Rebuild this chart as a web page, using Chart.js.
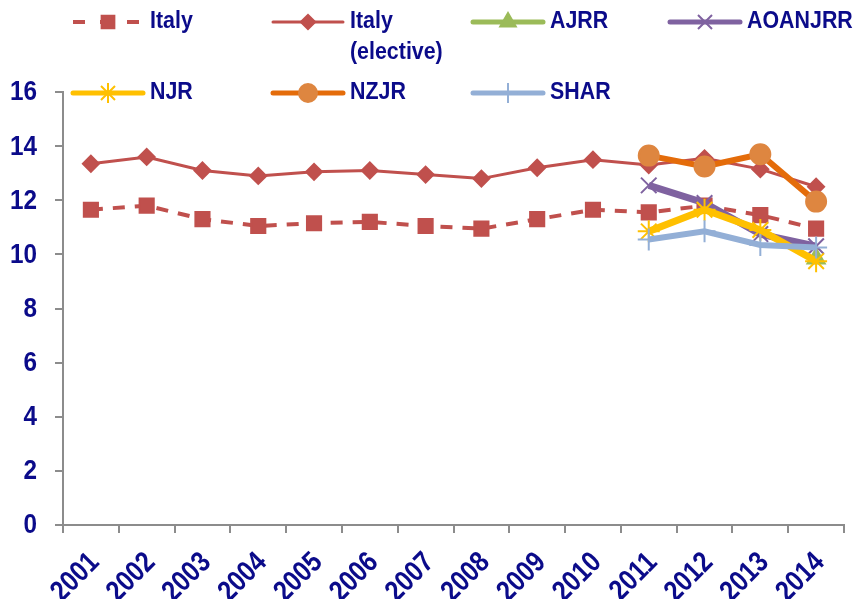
<!DOCTYPE html>
<html>
<head>
<meta charset="utf-8">
<script src="https://cdn.jsdelivr.net/npm/chart.js@4.4.1/dist/chart.umd.min.js"></script>
<style>
  html, body { margin: 0; padding: 0; background: #fff; }
  #wrap { width: 857px; height: 599px; position: relative; }
</style>
</head>
<body>
<div id="wrap"><canvas id="chart" width="857" height="599"></canvas></div>
<script>
const years = ["2001", "2002", "2003", "2004", "2005", "2006", "2007", "2008", "2009", "2010", "2011", "2012", "2013", "2014"];
const italy = [11.65, 11.8, 11.3, 11.05, 11.15, 11.2, 11.05, 10.95, 11.3, 11.65, 11.55, 11.8, 11.45, 10.95];
const italyElective = [13.35, 13.6, 13.1, 12.9, 13.05, 13.1, 12.95, 12.8, 13.2, 13.5, 13.3, 13.55, 13.15, 12.5];
const ajrr = [null, null, null, null, null, null, null, null, null, null, null, null, null, 9.85];
const aoanjrr = [null, null, null, null, null, null, null, null, null, null, 12.55, 11.9, 10.75, 10.3];
const njr = [null, null, null, null, null, null, null, null, null, null, 10.85, 11.65, 10.9, 9.75];
const nzjr = [null, null, null, null, null, null, null, null, null, null, 13.65, 13.25, 13.7, 11.95];
const shar = [null, null, null, null, null, null, null, null, null, null, 10.55, 10.85, 10.35, 10.25];
const yTicks = [0, 2, 4, 6, 8, 10, 12, 14, 16];

const NAVY = "#0b0b8a";
const FONT = "'Liberation Sans', Arial, sans-serif";
const AXIS = "#8c8c8c";

const series = [
  { label: "Italy", data: italy, color: "#C0504D", width: 4, dash: [12, 10], point: "rect", radius: 10, fill: "#C0504D" },
  { label: "Italy (elective)", data: italyElective, color: "#C0504D", width: 3, dash: [], point: "rectRot", radius: 8, fill: "#C0504D" },
  { label: "AJRR", data: ajrr, color: "#9BBB59", width: 6, dash: [], point: "triangle", radius: 10, fill: "#9BBB59" },
  { label: "AOANJRR", data: aoanjrr, color: "#7F62A0", width: 7, dash: [], point: "crossRot", radius: 11, fill: "#7F62A0" },
  { label: "NJR", data: njr, color: "#FFC000", width: 7, dash: [], point: "star", radius: 11, fill: "#FFC000" },
  { label: "NZJR", data: nzjr, color: "#E46C0A", width: 6, dash: [], point: "circle", radius: 10, fill: "#DE8640" },
  { label: "SHAR", data: shar, color: "#93AFD6", width: 6, dash: [], point: "cross", radius: 11, fill: "#93AFD6" },
];

// legend slots: [lineStartX, centerY, labelLines]
const legendSlots = [
  [73, 22, ["Italy"]],
  [273, 22, ["Italy", "(elective)"]],
  [473, 22, ["AJRR"]],
  [670, 22, ["AOANJRR"]],
  [73, 93, ["NJR"]],
  [273, 93, ["NZJR"]],
  [473, 93, ["SHAR"]],
];

// narrow bold text, like the original Arial Narrow look
function narrowText(ctx, text, x, y, size, squeeze, align, rot) {
  ctx.save();
  ctx.translate(x, y);
  if (rot) ctx.rotate(rot);
  ctx.scale(squeeze, 1);
  ctx.font = "bold " + size + "px " + FONT;
  ctx.fillStyle = NAVY;
  ctx.textAlign = align;
  ctx.textBaseline = "middle";
  ctx.fillText(text, 0, 0);
  ctx.restore();
}

const labelPlugin = {
  id: "axisLabels",
  afterDraw(chart) {
    const ctx = chart.ctx;
    const xs = chart.scales.x, ys = chart.scales.y;
    ys.ticks.forEach(t => narrowText(ctx, String(t.value), 37, ys.getPixelForValue(t.value) + 1, 27, 0.9, "right", 0));
    years.forEach((y, i) => narrowText(ctx, y, xs.getPixelForTick(i) + 4, 558, 29, 0.85, "right", -Math.PI / 4));
  },
};

const legendPlugin = {
  id: "sideLegend",
  afterDraw(chart) {
    const ctx = chart.ctx;
    series.forEach((s, i) => {
      const [x0, cy, lines] = legendSlots[i];
      ctx.save();
      ctx.strokeStyle = s.color;
      ctx.lineWidth = Math.min(s.width, 5);
      ctx.lineCap = s.dash.length ? "butt" : "round";
      ctx.setLineDash(s.dash.length ? [12, 15] : []);
      ctx.beginPath();
      ctx.moveTo(x0, cy);
      ctx.lineTo(x0 + 70, cy);
      ctx.stroke();
      ctx.restore();
      ctx.save();
      ctx.fillStyle = s.fill;
      ctx.strokeStyle = s.point === "circle" ? s.fill : s.color;
      ctx.lineWidth = 2;
      Chart.helpers.drawPoint(ctx, { pointStyle: s.point, radius: s.radius * 0.9, rotation: 0, borderWidth: 2 }, x0 + 35, cy);
      ctx.restore();
      lines.forEach((t, j) => narrowText(ctx, t, x0 + 77, cy + j * 31, 23, 0.93, "left", 0));
    });
  },
};

new Chart(document.getElementById("chart"), {
  type: "line",
  data: {
    labels: years,
    datasets: series.map((s, i) => ({
      label: s.label,
      data: s.data,
      borderColor: s.color,
      borderWidth: s.width,
      borderDash: s.dash,
      pointStyle: s.point,
      pointRadius: s.radius,
      pointHoverRadius: s.radius,
      pointBackgroundColor: s.fill,
      pointBorderColor: s.point === "circle" ? s.fill : s.color,
      pointBorderWidth: 2,
      tension: 0,
      spanGaps: false,
      order: series.length - i,
    })),
  },
  options: {
    responsive: false,
    animation: false,
    layout: { padding: { top: 92, right: 2, left: 0, bottom: 0 } },
    plugins: {
      legend: { display: false },
      tooltip: { enabled: false },
    },
    scales: {
      x: {
        offset: true,
        grid: { offset: true, drawOnChartArea: false, drawTicks: true, tickLength: 8, color: AXIS, lineWidth: 2 },
        border: { color: AXIS, width: 2 },
        ticks: { display: false, autoSkip: false },
        afterFit(scale) { scale.height = 74; },
      },
      y: {
        min: 0,
        max: 16,
        afterBuildTicks(scale) { scale.ticks = yTicks.map(v => ({ value: v })); },
        grid: { drawOnChartArea: false, drawTicks: true, tickLength: 8, color: AXIS, lineWidth: 2 },
        border: { color: AXIS, width: 2 },
        ticks: { display: false },
        afterFit(scale) { scale.width = 63; },
      },
    },
  },
  plugins: [labelPlugin, legendPlugin],
});
</script>
</body>
</html>
